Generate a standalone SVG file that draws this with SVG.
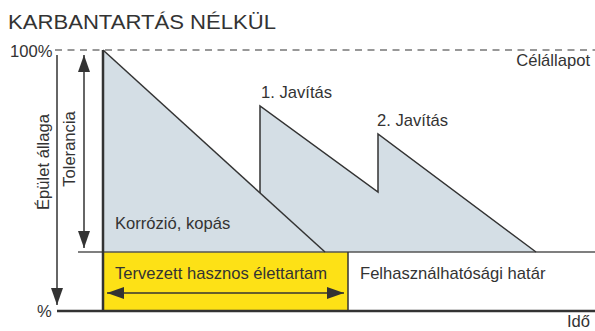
<svg xmlns="http://www.w3.org/2000/svg" width="595" height="331" viewBox="0 0 595 331">
<style>
text{font-family:"Liberation Sans",Arial,sans-serif;fill:#333;font-size:16.6px}
.ln{stroke:#333;fill:none;stroke-width:1.5}
.thk{stroke:#333;fill:none;stroke-width:2.5}
</style>
<defs>
<marker id="ah" markerWidth="17" markerHeight="12" refX="17" refY="6" orient="auto-start-reverse" markerUnits="userSpaceOnUse">
<path d="M0,0 L17,6 L0,12 Z" fill="#333"/>
</marker>
</defs>
<rect width="595" height="331" fill="#fff"/>
<text x="8" y="29" style="font-size:20px" textLength="268" lengthAdjust="spacingAndGlyphs">KARBANTARTÁS NÉLKÜL</text>
<g id="chart">
<polygon points="103,50 260,193 260,106 378,192 378,134 536,252 103,252" fill="#d4dee5"/>
<rect x="103" y="252" width="245" height="59" fill="#fde116"/>
<line x1="55" y1="50" x2="595" y2="50" stroke="#777" stroke-width="1.5" stroke-dasharray="7,5.5"/>
<line x1="78" y1="252" x2="595" y2="252" stroke="#555" stroke-width="1.5"/>
<line x1="57" y1="311" x2="595" y2="311" class="thk"/>
<line x1="103" y1="50" x2="103" y2="311" class="thk"/>
<line x1="348" y1="252" x2="348" y2="311" class="ln"/>
<polyline points="103,50 325,252" class="ln"/>
<polyline points="260,193 260,106 378,192 378,134 536,252" class="ln"/>
</g>
<g id="connectors">
<line x1="57" y1="55" x2="57" y2="305" class="ln" marker-end="url(#ah)"/>
<line x1="84" y1="55" x2="84" y2="248" class="ln" marker-start="url(#ah)" marker-end="url(#ah)"/>
<line x1="107" y1="293" x2="344" y2="293" class="ln" marker-start="url(#ah)" marker-end="url(#ah)"/>
</g>
<g id="labels">
<text x="10" y="57">100%</text>
<text x="590" y="66" text-anchor="end">Célállapot</text>
<text x="37" y="317">%</text>
<text x="590" y="327" text-anchor="end">Idő</text>
<text x="49" y="162" text-anchor="middle" transform="rotate(-90 49 162)">Épület állaga</text>
<text x="75" y="149" text-anchor="middle" transform="rotate(-90 75 149)">Tolerancia</text>
<text x="261" y="98">1. Javítás</text>
<text x="377" y="126">2. Javítás</text>
<text x="115" y="229">Korrózió, kopás</text>
<text x="115" y="279">Tervezett hasznos élettartam</text>
<text x="360" y="279">Felhasználhatósági határ</text>
</g>
</svg>
